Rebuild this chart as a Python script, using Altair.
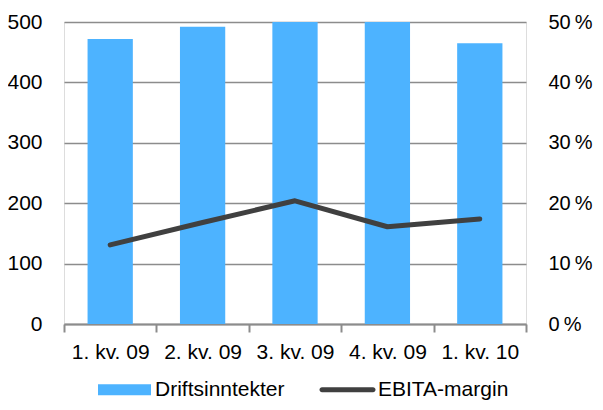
import altair as alt
import pandas as pd

quarters = ["1. kv. 09", "2. kv. 09", "3. kv. 09", "4. kv. 09", "1. kv. 10"]
revenue = [472, 492, 500, 500, 465]
margin = [13.1, 16.8, 20.4, 16.1, 17.4]
series = ["Driftsinntekter", "EBITA-margin"]
colors = ["#4db3ff", "#404040"]

df = pd.DataFrame({"quarter": quarters, "revenue": revenue, "margin": margin})

FONT = "Liberation Sans"
FS = 21

x = alt.X("quarter:N", sort=quarters, title=None,
          scale=alt.Scale(paddingInner=0, paddingOuter=0),
          axis=alt.Axis(labelAngle=0, labelFontSize=FS, labelColor="#000000",
                        labelFont=FONT, labelPadding=9, tickBand="extent",
                        tickSize=8, tickColor="#8c8c8c", tickWidth=2,
                        domainColor="#8c8c8c", domainWidth=2, grid=False))

legend = alt.Legend(
    title=None, orient="none", direction="horizontal", legendX=50, legendY=357,
    labelFontSize=FS, labelFont=FONT, labelColor="#000000",
    symbolSize=400, columnPadding=34, labelOffset=20, padding=0,
    symbolStrokeWidth=0, symbolOpacity=1,
    symbolType=alt.ExprRef(expr="datum.value == 'Driftsinntekter' ? 'M-2.65,-0.55H2.65V0.55H-2.65Z' : 'M-2.55,-0.25H2.55A0.25,0.25 0 0 1 2.55,0.25H-2.55A0.25,0.25 0 0 1 -2.55,-0.25Z'"),
    symbolFillColor=alt.ExprRef(expr="datum.value == 'Driftsinntekter' ? '#4db3ff' : '#404040'"),
)

cscale = alt.Scale(domain=series, range=colors)

bars = alt.Chart(df).mark_bar(color="#4db3ff", width=alt.RelativeBandSize(0.49)).encode(
    x=x,
    y=alt.Y("revenue:Q", title=None,
            scale=alt.Scale(domain=[0, 500]),
            axis=alt.Axis(values=[0, 100, 200, 300, 400, 500], labelFontSize=FS,
                          labelFont=FONT, labelColor="#000000", tickSize=0,
                          labelPadding=22, domain=False, grid=True,
                          gridColor="#8c8c8c", gridWidth=1.6)),
    color=alt.Color("s:N", scale=cscale, legend=legend),
).transform_calculate(s="'Driftsinntekter'")

line = alt.Chart(df).mark_line(strokeWidth=5, strokeCap="round", strokeJoin="round").encode(
    x=x,
    y=alt.Y("margin:Q", title=None,
            scale=alt.Scale(domain=[0, 50]),
            axis=alt.Axis(orient="right", values=[0, 10, 20, 30, 40, 50],
                          labelExpr="datum.value + '\u2009%'", labelFontSize=20,
                          labelFont=FONT, labelColor="#000000", tickSize=0,
                          labelPadding=22, domain=False, grid=False)),
    color=alt.Color("s:N", scale=cscale, legend=legend),
).transform_calculate(s="'EBITA-margin'")

chart = alt.layer(bars, line).resolve_scale(y="independent").properties(
    width=462, height=302,
    autosize=alt.AutoSizeParams(type="none"),
    padding={"left": 56, "top": 14, "right": 69, "bottom": 78},
).configure_view(stroke=None).configure(font=FONT)

chart.save("out.html", embed_options={"renderer": "svg", "actions": False})
